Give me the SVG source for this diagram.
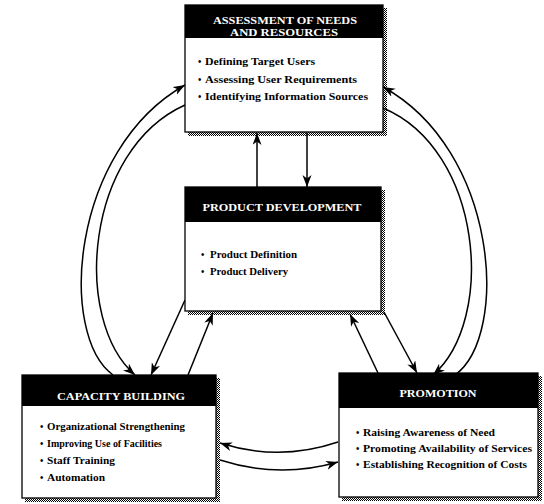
<svg xmlns="http://www.w3.org/2000/svg" width="544" height="504" viewBox="0 0 544 504">
<defs>
<pattern id="chk" width="2" height="2" patternUnits="userSpaceOnUse">
<rect x="0" y="0" width="1" height="1" fill="#000"/>
<rect x="1" y="1" width="1" height="1" fill="#000"/>
</pattern>
<marker id="ah" markerUnits="userSpaceOnUse" markerWidth="13" markerHeight="10" refX="12" refY="4.5" orient="auto">
<path d="M0,0 L12,4.5 L0,9 L3.5,4.5 z" fill="#000"/>
</marker>
<style>
.box{fill:#fff;stroke:#000;stroke-width:1.3}
.hdr{fill:#000}
.sh{fill:url(#chk)}
.ttl{font-family:"Liberation Serif","Times New Roman",serif;font-weight:bold;font-size:11px;fill:#fff;text-anchor:middle}
.itm{font-family:"Liberation Serif","Times New Roman",serif;font-weight:bold;font-size:9.5px;fill:#000}
.con{fill:none;stroke:#000;stroke-width:1.5;marker-end:url(#ah)}
</style>
</defs>
<rect width="544" height="504" fill="#fff"/>

<g id="connectors">
<path class="con" d="M257,187 L257,133"/>
<path class="con" d="M307,133 L307,187"/>
<path class="con" d="M113,375 C58,335 70,150 185,85"/>
<path class="con" d="M185,105 C85,150 72,320 135,375"/>
<path class="con" d="M455,375 C510,335 498,150 383,87"/>
<path class="con" d="M383,108 C483,150 496,320 433,375"/>
<path class="con" d="M185,300 L151,375"/>
<path class="con" d="M188,375 L213,313"/>
<path class="con" d="M384,312 L417,373"/>
<path class="con" d="M378,373 L350,314"/>
<path class="con" d="M338,442 Q279,462 220,443"/>
<path class="con" d="M220,460 Q279,479 338,462"/>
</g>

<g id="assessment">
<rect class="box" x="185" y="5" width="198" height="127"/>
<rect class="sh" x="383" y="8" width="4" height="128"/>
<rect class="sh" x="188" y="132" width="199" height="4"/>
<rect class="hdr" x="185" y="5" width="198" height="33"/>
<text class="ttl" x="285" y="24" textLength="144" lengthAdjust="spacingAndGlyphs">ASSESSMENT OF NEEDS</text>
<text class="ttl" x="284" y="36" textLength="108" lengthAdjust="spacingAndGlyphs">AND RESOURCES</text>
<text class="itm" x="198" y="65">•</text>
<text class="itm" x="205" y="65" textLength="110" lengthAdjust="spacingAndGlyphs">Defining Target Users</text>
<text class="itm" x="198" y="83">•</text>
<text class="itm" x="205" y="83" textLength="152" lengthAdjust="spacingAndGlyphs">Assessing User Requirements</text>
<text class="itm" x="198" y="100">•</text>
<text class="itm" x="205" y="100" textLength="163" lengthAdjust="spacingAndGlyphs">Identifying Information Sources</text>
</g>

<g id="product-development">
<rect class="box" x="185" y="187" width="196" height="124"/>
<rect class="sh" x="381" y="190" width="4" height="125"/>
<rect class="sh" x="188" y="311" width="197" height="4"/>
<rect class="hdr" x="185" y="187" width="196" height="35"/>
<text class="ttl" x="282" y="211" textLength="159" lengthAdjust="spacingAndGlyphs">PRODUCT DEVELOPMENT</text>
<text class="itm" x="201" y="258">•</text>
<text class="itm" x="210" y="258" textLength="87" lengthAdjust="spacingAndGlyphs">Product Definition</text>
<text class="itm" x="201" y="275">•</text>
<text class="itm" x="210" y="275" textLength="78" lengthAdjust="spacingAndGlyphs">Product Delivery</text>
</g>

<g id="capacity-building">
<rect class="box" x="22" y="375" width="194" height="123"/>
<rect class="sh" x="216" y="378" width="4" height="124"/>
<rect class="sh" x="25" y="498" width="195" height="4"/>
<rect class="hdr" x="22" y="375" width="194" height="31"/>
<text class="ttl" x="121" y="400" textLength="128" lengthAdjust="spacingAndGlyphs">CAPACITY BUILDING</text>
<text class="itm" x="40" y="430">•</text>
<text class="itm" x="47" y="430" textLength="138" lengthAdjust="spacingAndGlyphs">Organizational Strengthening</text>
<text class="itm" x="40" y="447">•</text>
<text class="itm" x="47" y="447" textLength="115" lengthAdjust="spacingAndGlyphs">Improving Use of Facilities</text>
<text class="itm" x="40" y="464">•</text>
<text class="itm" x="47" y="464" textLength="68" lengthAdjust="spacingAndGlyphs">Staff Training</text>
<text class="itm" x="40" y="481">•</text>
<text class="itm" x="47" y="481" textLength="58" lengthAdjust="spacingAndGlyphs">Automation</text>
</g>

<g id="promotion">
<rect class="box" x="339" y="373" width="199" height="124"/>
<rect class="sh" x="538" y="376" width="4" height="125"/>
<rect class="sh" x="342" y="497" width="200" height="4"/>
<rect class="hdr" x="339" y="373" width="199" height="35"/>
<text class="ttl" x="438" y="397" textLength="77" lengthAdjust="spacingAndGlyphs">PROMOTION</text>
<text class="itm" x="356" y="436">•</text>
<text class="itm" x="363" y="436" textLength="132" lengthAdjust="spacingAndGlyphs">Raising Awareness of Need</text>
<text class="itm" x="356" y="452">•</text>
<text class="itm" x="363" y="452" textLength="169" lengthAdjust="spacingAndGlyphs">Promoting Availability of Services</text>
<text class="itm" x="356" y="468">•</text>
<text class="itm" x="363" y="468" textLength="164" lengthAdjust="spacingAndGlyphs">Establishing Recognition of Costs</text>
</g>
</svg>
